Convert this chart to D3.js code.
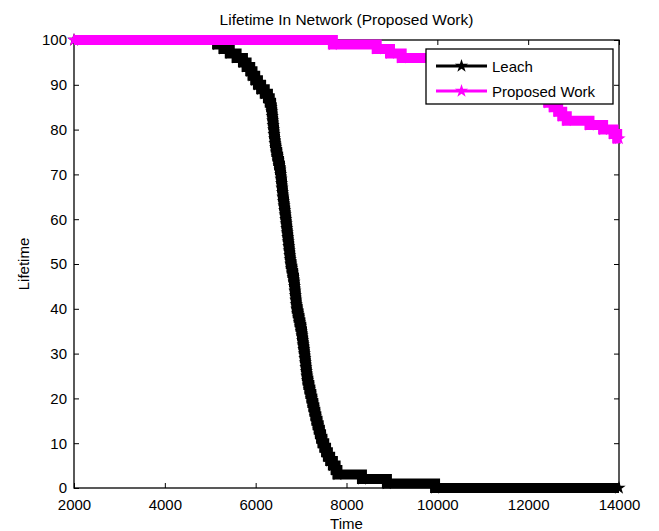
<!DOCTYPE html>
<html>
<head>
<meta charset="utf-8">
<script src="https://cdn.jsdelivr.net/npm/d3@7"></script>
<style>
body{margin:0;background:#fff;}
text{font-family:"Liberation Sans",Arial,sans-serif;fill:#000;}
</style>
</head>
<body>
<div id="plot"></div>
<script>
//Chart data
var titleText = 'Lifetime In Network (Proposed Work)';
var xLabel = 'Time', yLabel = 'Lifetime';
var seriesNames = ['Leach', 'Proposed Work'];
var xTicks = [2000,4000,6000,8000,10000,12000,14000];
var yTicks = [0,10,20,30,40,50,60,70,80,90,100];

//time at which each lifetime level is reached (last point = end of run)
var leachTime = [2000,5150,5290,5430,5580,5720,5800,5880,5930,5990,6050,
	6120,6200,6270,6310,6340,6355,6365,6375,6385,6395,
	6405,6415,6425,6440,6455,6475,6495,6515,6535,6550,
	6560,6570,6580,6590,6600,6612,6625,6638,6650,6662,
	6673,6684,6695,6706,6717,6728,6739,6750,6761,6772,
	6790,6808,6826,6844,6854,6864,6874,6884,6894,6905,
	6925,6945,6965,6985,7005,7020,7033,7046,7059,7072,
	7083,7094,7105,7116,7127,7140,7160,7182,7204,7226,
	7248,7270,7292,7314,7336,7362,7388,7414,7440,7470,
	7510,7550,7590,7640,7700,7760,7800,8340,8890,9950,14000];
var leachLife = [100,99,98,97,96,95,94,93,92,91,90,
	89,88,87,86,85,84,83,82,81,80,
	79,78,77,76,75,74,73,72,71,70,
	69,68,67,66,65,64,63,62,61,60,
	59,58,57,56,55,54,53,52,51,50,
	49,48,47,46,45,44,43,42,41,40,
	39,38,37,36,35,34,33,32,31,30,
	29,28,27,26,25,24,23,22,21,20,
	19,18,17,16,15,14,13,12,11,10,
	9,8,7,6,5,4,3,2,1,0,0];

var propTime = [2000,7700,8665,8958,9215,10300,10900,11400,11700,11900,12000,
	12100,12200,12300,12440,12560,12660,12750,12850,13350,13650,13880,13960,14000];
var propLife = [100,99,98,97,96,95,94,93,92,91,90,
	89,88,87,86,85,84,83,82,81,80,79,78,78];

var colors = ['#000000','#ff00ff'];

//Set up the drawing environment here
var margin = {t:40,r:40,b:43,l:74};
var W = 659, H = 531;
var width = W-margin.l-margin.r,
	height = H-margin.t-margin.b;

var svg = d3.select('#plot')
	.append('svg')
	.attr('width',W)
	.attr('height',H);

var plot = svg.append('g')
	.attr('class','plot')
	.attr('transform','translate('+margin.l+','+margin.t+')');

var x = d3.scaleLinear().domain([2000,14000]).range([0,width]);
var y = d3.scaleLinear().domain([0,100]).range([height,0]);

//axes, MATLAB style: ticks pointing in, on all four sides
var tk = 5;
plot.append('g')
	.attr('transform','translate(0,'+height+')')
	.call(d3.axisBottom(x).tickValues(xTicks).tickSize(-tk).tickPadding(11).tickFormat(d3.format('d')));
plot.append('g')
	.call(d3.axisTop(x).tickValues(xTicks).tickSize(-tk).tickFormat(''));
plot.append('g')
	.call(d3.axisLeft(y).tickValues(yTicks).tickSize(-tk).tickPadding(7));
plot.append('g')
	.attr('transform','translate('+width+',0)')
	.call(d3.axisRight(y).tickValues(yTicks).tickSize(-tk).tickFormat(''));

plot.selectAll('.domain').remove();
plot.selectAll('.tick line').attr('stroke','#000').attr('stroke-width',1);
plot.selectAll('.tick text').style('font-size','15px').attr('fill','#000');

plot.append('rect')
	.attr('x',0).attr('y',0)
	.attr('width',width).attr('height',height)
	.attr('fill','none')
	.attr('stroke','#000')
	.attr('stroke-width',1.3);

//series
var series = [
	{name:seriesNames[0], t:leachTime, v:leachLife, color:colors[0]},
	{name:seriesNames[1], t:propTime, v:propLife, color:colors[1]}
];

var line = d3.line()
	.x(function(d){return x(d[0]);})
	.y(function(d){return y(d[1]);})
	.curve(d3.curveStepAfter);

var star = d3.symbol().type(d3.symbolStar).size(55);

series.forEach(function(s){
	var pts = s.t.map(function(t,i){return [t, s.v[i]];});
	var g = plot.append('g');
	g.append('path')
		.datum(pts)
		.attr('d',line)
		.attr('fill','none')
		.attr('stroke',s.color)
		.attr('stroke-width',10)
		.attr('stroke-linejoin','miter');
	g.selectAll('path.mk')
		.data(pts)
		.enter()
		.append('path')
		.attr('class','mk')
		.attr('d',star)
		.attr('transform',function(d){return 'translate('+x(d[0])+','+y(d[1])+')';})
		.attr('fill',s.color);
});

//legend
var lg = svg.append('g').attr('transform','translate(426,49)');
lg.append('rect')
	.attr('width',187).attr('height',55)
	.attr('fill','#fff')
	.attr('stroke','#000')
	.attr('stroke-width',1.3);
series.forEach(function(s,i){
	var ly = 17 + i*25;
	lg.append('line')
		.attr('x1',10).attr('x2',61)
		.attr('y1',ly).attr('y2',ly)
		.attr('stroke',s.color)
		.attr('stroke-width',3);
	lg.append('path')
		.attr('d',star)
		.attr('transform','translate(35.5,'+ly+')')
		.attr('fill',s.color);
	lg.append('text')
		.attr('x',66).attr('y',ly+5.5)
		.style('font-size','15px')
		.text(s.name);
});

//titles
svg.append('text')
	.attr('x',margin.l+width/2).attr('y',25)
	.attr('text-anchor','middle')
	.style('font-size','15.5px')
	.text(titleText);
svg.append('text')
	.attr('x',margin.l+width/2).attr('y',529)
	.attr('text-anchor','middle')
	.style('font-size','15px')
	.text(xLabel);
svg.append('text')
	.attr('transform','translate(29,'+(margin.t+height/2)+') rotate(-90)')
	.attr('text-anchor','middle')
	.style('font-size','15px')
	.text(yLabel);
</script>
</body>
</html>
